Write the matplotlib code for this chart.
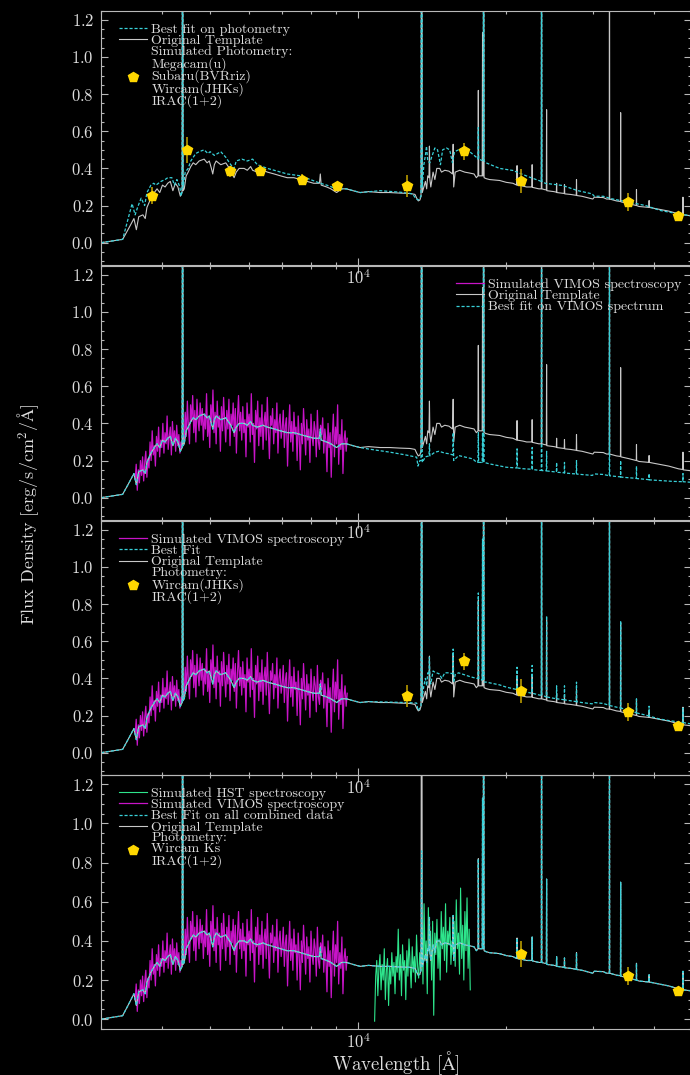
import numpy as np
import matplotlib
matplotlib.use("Agg")
import matplotlib.pyplot as plt
from matplotlib.ticker import MultipleLocator, NullFormatter

# values (wavelength in Angstrom, flux in erg/s/cm2/A)
# original template (lines are written as base / peak / base triplets)
tmpl_wave = [3000, 3320, 3420, 3500, 3540, 3580, 3650, 3690, 3720, 3790,
             3850, 3900, 3950, 4000, 4050, 4100, 4150, 4200, 4250, 4300,
             4350, 4385, 4396, 4407, 4430, 4470, 4512, 4567, 4620, 4674,
             4750, 4862, 4930, 4981, 5030, 5062, 5100, 5143, 5256, 5380,
             5508, 5594, 5650, 5727, 5862, 5950, 6045, 6100, 6237, 6400,
             6539, 6749, 6951, 7173, 7400, 7631, 7870, 8118, 8340, 8376,
             8410, 8630, 8800, 9041, 9250, 9465, 9760, 10093, 10500, 11079,
             11600, 12163, 12744, 13046, 13150, 13250, 13350, 13420, 13460, 13500,
             13600, 13700, 13780, 13850, 13930, 13960, 13990, 14050, 14200, 14320,
             14450, 14650, 14770, 15000, 15300, 15550, 15600, 15640, 15750, 16087,
             16466, 16855, 17200, 17390, 17520, 17550, 17580, 17870, 17900, 17930,
             17960, 17990, 18030, 18200, 18500, 19390, 20000, 20630, 21010, 21040,
             21070, 21610, 22000, 22550, 22580, 22610, 23300, 23570, 23600, 23630,
             24000, 24130, 24160, 24190, 25000, 25290, 25320, 25350, 26240, 26270,
             26300, 27000, 27760, 27790, 27820, 28500, 29500, 30000, 30200, 31500,
             32000, 32400, 32430, 32460, 33500, 34140, 34170, 34200, 35530, 36770,
             36800, 36830, 37230, 39010, 39040, 39070, 40870, 42810, 44860, 45720,
             45750, 45780, 47500]
tmpl_flux = [0.000, 0.018, 0.08, 0.13, 0.07, 0.14, 0.15, 0.13, 0.19, 0.24,
             0.27, 0.29, 0.27, 0.31, 0.30, 0.32, 0.33, 0.28, 0.32, 0.30,
             0.25, 0.27, 3.00, 0.28, 0.29, 0.36, 0.38, 0.41, 0.43, 0.42,
             0.44, 0.45, 0.43, 0.44, 0.40, 0.37, 0.42, 0.44, 0.42, 0.43,
             0.39, 0.35, 0.38, 0.40, 0.40, 0.39, 0.41, 0.39, 0.38, 0.39,
             0.38, 0.37, 0.36, 0.35, 0.35, 0.34, 0.33, 0.32, 0.32, 0.37,
             0.31, 0.30, 0.29, 0.27, 0.29, 0.29, 0.28, 0.27, 0.275, 0.27,
             0.27, 0.267, 0.265, 0.26, 0.24, 0.225, 0.23, 0.25, 3.00, 0.27,
             0.30, 0.33, 0.29, 0.36, 0.35, 0.52, 0.34, 0.30, 0.38, 0.34,
             0.40, 0.40, 0.38, 0.39, 0.385, 0.37, 0.53, 0.30, 0.38, 0.39,
             0.38, 0.375, 0.37, 0.35, 0.36, 0.82, 0.36, 0.36, 1.13, 0.36,
             0.36, 3.00, 0.35, 0.345, 0.34, 0.335, 0.325, 0.32, 0.31, 0.415,
             0.31, 0.305, 0.30, 0.30, 0.42, 0.298, 0.29, 0.29, 3.00, 0.29,
             0.285, 0.285, 0.716, 0.28, 0.275, 0.272, 0.32, 0.27, 0.265, 0.313,
             0.263, 0.26, 0.255, 0.34, 0.254, 0.25, 0.24, 0.235, 0.245, 0.243,
             0.235, 0.235, 3.00, 0.235, 0.225, 0.222, 0.70, 0.22, 0.21, 0.20,
             0.286, 0.20, 0.195, 0.19, 0.227, 0.19, 0.18, 0.17, 0.155, 0.152,
             0.245, 0.15, 0.145]

# best fit on photometry only (panel 1)
fitp_wave = [3000, 3320, 3470, 3520, 3560, 3620, 3680, 3720, 3790, 3840,
             3880, 3973, 4050, 4100, 4180, 4230, 4280, 4340, 4365, 4385,
             4396, 4407, 4450, 4512, 4567, 4674, 4750, 4862, 4950, 5000,
             5100, 5256, 5380, 5508, 5594, 5650, 5800, 5950, 6100, 6237,
             6539, 6749, 7173, 7631, 7994, 8376, 8630, 9041, 9465, 10093,
             11079, 12163, 12900, 13100, 13250, 13420, 13460, 13500, 13600, 13700,
             13770, 13850, 13989, 14100, 14320, 14500, 14700, 14850, 15120, 15350,
             15550, 15700, 16000, 16300, 16855, 17391, 17520, 17550, 17580, 17960,
             17990, 18030, 18200, 19390, 20630, 22300, 23570, 23600, 23630, 24000,
             26040, 27900, 29900, 30200, 31500, 32700, 35530, 38400, 41200, 44860,
             47500]
fitp_flux = [0.000, 0.018, 0.21, 0.15, 0.19, 0.24, 0.20, 0.27, 0.31, 0.32,
             0.31, 0.33, 0.34, 0.35, 0.35, 0.31, 0.34, 0.30, 0.25, 0.28,
             3.00, 0.30, 0.38, 0.40, 0.44, 0.48, 0.49, 0.50, 0.48, 0.49,
             0.47, 0.49, 0.46, 0.42, 0.40, 0.44, 0.45, 0.44, 0.45, 0.42,
             0.40, 0.39, 0.37, 0.36, 0.34, 0.32, 0.31, 0.29, 0.29, 0.27,
             0.28, 0.272, 0.263, 0.237, 0.23, 0.25, 3.00, 0.30, 0.42, 0.47,
             0.52, 0.44, 0.43, 0.46, 0.51, 0.50, 0.42, 0.50, 0.51, 0.50,
             0.43, 0.49, 0.50, 0.50, 0.49, 0.46, 0.45, 0.62, 0.45, 0.44,
             3.00, 0.44, 0.43, 0.40, 0.389, 0.353, 0.33, 3.00, 0.33, 0.32,
             0.308, 0.281, 0.263, 0.25, 0.25, 0.237, 0.218, 0.20, 0.173, 0.155,
             0.145]

# near-IR part of the fit on the VIMOS spectrum (panel 2); optical part follows the template
fitv_wave = [10500, 11610, 12500, 13150, 13230, 13350, 13420, 13460, 13500, 13700,
             13930, 13960, 13990, 14320, 14600, 15000, 15360, 15570, 15600, 15640,
             16000, 17100, 17400, 17520, 17550, 17580, 17870, 17900, 17930, 17960,
             17990, 18030, 18500, 20000, 21010, 21040, 21070, 21630, 22550, 22580,
             22610, 23370, 23570, 23600, 23630, 24130, 24160, 24190, 25290, 25320,
             25350, 26240, 26270, 26300, 27300, 27760, 27790, 27820, 29920, 30200,
             31500, 32400, 32430, 32460, 34140, 34170, 34200, 36770, 36800, 36830,
             37300, 39010, 39040, 39070, 43500, 45720, 45750, 45780, 47500]
fitv_flux = [0.262, 0.245, 0.23, 0.218, 0.17, 0.20, 0.20, 3.00, 0.19, 0.22,
             0.225, 0.29, 0.225, 0.245, 0.25, 0.24, 0.236, 0.23, 0.35, 0.20,
             0.227, 0.209, 0.191, 0.19, 0.35, 0.19, 0.19, 0.35, 0.19, 0.19,
             3.00, 0.19, 0.182, 0.164, 0.16, 0.263, 0.16, 0.156, 0.153, 0.27,
             0.152, 0.147, 0.147, 3.00, 0.146, 0.145, 0.25, 0.144, 0.138, 0.19,
             0.137, 0.134, 0.19, 0.133, 0.129, 0.128, 0.20, 0.127, 0.12, 0.128,
             0.125, 0.118, 3.00, 0.118, 0.112, 0.20, 0.111, 0.104, 0.17, 0.103,
             0.102, 0.097, 0.13, 0.096, 0.088, 0.086, 0.13, 0.086, 0.083]

# near-IR part of the fit on VIMOS + photometry (panel 3)
fitvp_wave = [10500, 11600, 12500, 13150, 13230, 13350, 13420, 13460, 13500, 13600,
              13700, 13780, 13850, 13930, 13960, 13990, 14050, 14200, 14320, 14600,
              14800, 15000, 15300, 15550, 15600, 15640, 15750, 16000, 16855, 17391,
              17520, 17550, 17580, 17870, 17900, 17930, 17960, 17990, 18030, 18200,
              19390, 20000, 21010, 21040, 21070, 21630, 22550, 22580, 22610, 23370,
              23570, 23600, 23630, 24130, 24160, 24190, 25290, 25320, 25350, 26240,
              26270, 26300, 27760, 27790, 27820, 28500, 29900, 30200, 31500, 32400,
              32430, 32460, 34140, 34170, 34200, 35530, 36770, 36800, 36830, 39010,
              39040, 39070, 40870, 43000, 45720, 45750, 45780, 47500]
fitvp_flux = [0.275, 0.272, 0.27, 0.267, 0.227, 0.24, 0.25, 3.00, 0.30, 0.36,
              0.40, 0.36, 0.43, 0.42, 0.513, 0.40, 0.37, 0.44, 0.433, 0.425,
              0.40, 0.43, 0.43, 0.425, 0.558, 0.38, 0.42, 0.43, 0.41, 0.40,
              0.40, 0.86, 0.40, 0.39, 1.15, 0.39, 0.39, 3.00, 0.38, 0.38,
              0.365, 0.353, 0.34, 0.46, 0.34, 0.33, 0.32, 0.47, 0.32, 0.31,
              0.31, 3.00, 0.31, 0.30, 0.737, 0.30, 0.29, 0.36, 0.29, 0.285,
              0.36, 0.284, 0.275, 0.38, 0.274, 0.27, 0.263, 0.27, 0.265, 0.255,
              3.00, 0.254, 0.24, 0.71, 0.24, 0.23, 0.215, 0.29, 0.214, 0.198,
              0.25, 0.197, 0.182, 0.172, 0.163, 0.24, 0.162, 0.155]

# fit on all combined data (panel 4): same as template, [OII] line lower
fit_all_oii_wave = 13460
fit_all_oii_peak = 0.86

# simulated VIMOS spectrum (3520 - 9500 A)
vimos_range = (3520, 9500)
vimos_flux = [0.10, 0.18, 0.04, 0.15, 0.08, 0.20,
              0.12, 0.22, 0.09, 0.19, 0.25, 0.11, 0.21, 0.16,
              0.30, 0.20, 0.36, 0.23, 0.28, 0.17, 0.33, 0.25, 0.38, 0.22, 0.31,
              0.27, 0.40, 0.24, 0.35, 0.29, 0.44, 0.26, 0.33, 0.38, 0.23, 0.41, 0.30,
              0.36, 0.25, 0.39, 0.28, 0.34,
              0.24, 0.30, 0.27, 0.33, 0.30,
              0.46, 0.33, 0.52, 0.38, 0.29, 0.50, 0.41, 0.55, 0.35, 0.47, 0.30, 0.53,
              0.42, 0.36, 0.51, 0.39,
              0.48, 0.31, 0.45, 0.37, 0.56, 0.33, 0.43, 0.27, 0.50, 0.40, 0.58, 0.35,
              0.46, 0.29, 0.52, 0.38, 0.44, 0.25, 0.49, 0.36, 0.54, 0.41, 0.30, 0.47,
              0.37, 0.53, 0.28, 0.45, 0.39, 0.51, 0.33, 0.48, 0.24, 0.43, 0.55, 0.36,
              0.46, 0.31,
              0.49, 0.35, 0.42, 0.22, 0.51, 0.38, 0.45, 0.30, 0.56, 0.34, 0.40, 0.19,
              0.47, 0.37, 0.52, 0.28, 0.43, 0.33, 0.50, 0.26, 0.41, 0.46, 0.31, 0.54,
              0.36, 0.21, 0.44, 0.39, 0.48, 0.29, 0.42, 0.35, 0.51, 0.24, 0.40, 0.45,
              0.32, 0.37,
              0.47, 0.27, 0.39, 0.43, 0.17, 0.36, 0.50, 0.30, 0.41, 0.25, 0.46, 0.34,
              0.38, 0.20, 0.44, 0.32, 0.15, 0.40, 0.29, 0.48, 0.35, 0.23, 0.42, 0.31,
              0.37, 0.19, 0.45, 0.33, 0.28, 0.41, 0.36, 0.22, 0.47, 0.30, 0.26, 0.39,
              0.34, 0.43,
              0.24, 0.37, 0.31, 0.14, 0.40, 0.27, 0.35, 0.11, 0.33, 0.45, 0.22, 0.38,
              0.29, 0.50, 0.18, 0.34, 0.26, 0.42, 0.13, 0.31, 0.36, 0.25, 0.32]

# simulated HST spectrum (10800 - 16900 A)
hst_range = (10800, 16900)
hst_flux = [-0.01, 0.22, 0.30, 0.12, 0.26, 0.33, 0.15, 0.28, 0.20, 0.36, 0.10,
            0.25, 0.31, 0.07, 0.27, 0.18, 0.34, 0.22, 0.29, 0.13, 0.32, 0.24,
            0.46, 0.20, 0.33, 0.12, 0.38, 0.25, 0.30, 0.10, 0.35, 0.22, 0.41,
            0.28, 0.16, 0.37, 0.24, 0.32, 0.19, 0.43, 0.27, 0.21, 0.34,
            0.25, 0.48, 0.18, 0.59, 0.30, 0.40, 0.13, 0.57, 0.35, 0.45,
            0.20, 0.50, 0.02, 0.44, 0.33, 0.51, 0.26, 0.41, 0.20, 0.55, 0.36,
            0.47, 0.30, 0.59, 0.24, 0.45, 0.38, 0.52, 0.28, 0.40,
            0.33, 0.50, 0.27, 0.61, 0.36, 0.44, 0.23, 0.67, 0.31, 0.48, 0.20,
            0.55, 0.35, 0.62, 0.26, 0.46, 0.15]

# simulated photometry: u, BVRiz, J H Ks, IRAC 1+2
phot_wave = [3811, 4486, 5500, 6312, 7702, 9067, 12549, 16440, 21480, 35400, 44720]
phot_flux = [0.254, 0.500, 0.385, 0.388, 0.340, 0.304, 0.304, 0.492, 0.333, 0.220, 0.143]
phot_err = [0.045, 0.07, 0.03, 0.03, 0.03, 0.025, 0.06, 0.047, 0.065, 0.047, 0.022]

plt.rcParams.update({
    "font.family": ["cmr10", "DejaVu Serif"],
    "mathtext.fontset": "cm",
    "axes.unicode_minus": False,
    "axes.formatter.use_mathtext": True,
    "text.color": "#dddddd",
    "axes.labelcolor": "#dddddd",
    "axes.edgecolor": "#b8b8b8",
    "figure.facecolor": "black",
    "savefig.facecolor": "black",
})

c_tmpl = "#c8c8c8"
c_fit = "#38d0d8"
c_vimos = "#c814c8"
c_hst = "#2ee58c"
c_phot = "#ffd700"
c_err = "#b89a00"
fit_ls = (0, (2.5, 1.5))

fig = plt.figure(figsize=(6.9, 10.75), dpi=100)
bottoms = [0.7535, 0.5163, 0.2791, 0.0428]
axes = []
for i, b in enumerate(bottoms):
    ax = fig.add_axes([101 / 690, b, 590 / 690, 0.2367])
    ax.set_zorder(10 - i)
    ax.set_facecolor("none")
    axes.append(ax)
ax1, ax2, ax3, ax4 = axes


def style(ax, ymin):
    ax.set_xscale("log")
    ax.set_xlim(3000, 47500)
    ax.set_ylim(ymin, 1.25)
    ax.yaxis.set_major_locator(MultipleLocator(0.2))
    ax.yaxis.set_minor_locator(MultipleLocator(0.05))
    ax.xaxis.set_minor_formatter(NullFormatter())
    ax.tick_params(which="both", direction="in", top=True, right=True,
                   color="#b8b8b8", labelcolor="#dddddd", width=0.8)
    ax.tick_params(which="major", length=5, labelsize=12)
    ax.tick_params(axis="y", which="major", pad=5)
    ax.tick_params(axis="x", which="major", pad=2)
    ax.tick_params(which="minor", length=2.5)


def photometry(ax, idx, label):
    w = [phot_wave[i] for i in idx]
    f = [phot_flux[i] for i in idx]
    e = [phot_err[i] for i in idx]
    ax.errorbar(w, f, yerr=e, fmt="none", ecolor=c_err, elinewidth=1.2, zorder=5)
    return ax.plot(w, f, "p", color=c_phot, ms=7, mec=c_phot, label=label, zorder=6)[0]


def legend(ax, handles, loc, anchor):
    leg = ax.legend(handles=handles, loc=loc, bbox_to_anchor=anchor, frameon=False,
                    fontsize=10, labelspacing=-0.1, handlelength=2.0,
                    handletextpad=0.3, borderaxespad=0.5)
    for t in leg.get_texts():
        t.set_linespacing(0.87)
        t.set_color("#dddddd")
    return leg


opt_idx = [i for i, w in enumerate(tmpl_wave) if w <= 10093]
opt_wave = [tmpl_wave[i] for i in opt_idx]
opt_flux = [tmpl_flux[i] for i in opt_idx]
vimos_wave = np.geomspace(vimos_range[0], vimos_range[1], len(vimos_flux))
hst_wave = np.geomspace(hst_range[0], hst_range[1], len(hst_flux))

# panel 1: photometry only
style(ax1, -0.12)
h_t, = ax1.plot(tmpl_wave, tmpl_flux, color=c_tmpl, lw=0.8, label="Original Template")
h_f, = ax1.plot(fitp_wave, fitp_flux, color=c_fit, lw=0.9, ls=fit_ls, label="Best fit on photometry")
h_p = photometry(ax1, range(11), "Simulated Photometry:\nMegacam(u)\nSubaru(BVRriz)\nWircam(JHKs)\nIRAC(1+2)")
legend(ax1, [h_f, h_t, h_p], "upper left", (0.01, 1.0))

# panel 2: VIMOS spectrum only
style(ax2, -0.12)
h_v, = ax2.plot(vimos_wave, vimos_flux, color=c_vimos, lw=0.9, label="Simulated VIMOS spectroscopy")
h_t, = ax2.plot(tmpl_wave, tmpl_flux, color=c_tmpl, lw=0.8, label="Original Template")
h_f, = ax2.plot(opt_wave + fitv_wave, opt_flux + fitv_flux, color=c_fit, lw=0.9, ls=fit_ls,
                label="Best fit on VIMOS spectrum")
legend(ax2, [h_v, h_t, h_f], "upper right", (1.005, 1.0))

# panel 3: VIMOS + near-IR photometry
style(ax3, -0.12)
h_v, = ax3.plot(vimos_wave, vimos_flux, color=c_vimos, lw=0.9, label="Simulated VIMOS spectroscopy")
h_t, = ax3.plot(tmpl_wave, tmpl_flux, color=c_tmpl, lw=0.8, label="Original Template")
h_f, = ax3.plot(opt_wave + fitvp_wave, opt_flux + fitvp_flux, color=c_fit, lw=0.9, ls=fit_ls,
                label="Best Fit")
h_p = photometry(ax3, range(6, 11), "Photometry:\nWircam(JHKs)\nIRAC(1+2)")
legend(ax3, [h_v, h_f, h_t, h_p], "upper left", (0.01, 1.0))

# panel 4: everything combined
style(ax4, -0.05)
fit_all_flux = [fit_all_oii_peak if w == fit_all_oii_wave else f for w, f in zip(tmpl_wave, tmpl_flux)]
h_h, = ax4.plot(hst_wave, hst_flux, color=c_hst, lw=0.8, label="Simulated HST spectroscopy")
h_v, = ax4.plot(vimos_wave, vimos_flux, color=c_vimos, lw=0.9, label="Simulated VIMOS spectroscopy")
h_t, = ax4.plot(tmpl_wave, tmpl_flux, color=c_tmpl, lw=0.8, label="Original Template")
h_f, = ax4.plot(tmpl_wave, fit_all_flux, color=c_fit, lw=0.9, ls=fit_ls,
                label="Best Fit on all combined data")
h_p = photometry(ax4, range(8, 11), "Photometry:\nWircam Ks\nIRAC(1+2)")
legend(ax4, [h_h, h_v, h_f, h_t, h_p], "upper left", (0.01, 1.0))

fig.text(396 / 690, 1 - 1063 / 1075, r"Wavelength [$\mathrm{\AA}$]",
         ha="center", va="center", fontsize=13.5)
fig.text(28 / 690, 1 - 514 / 1075, r"Flux Density [erg/s/cm$^2$/$\mathrm{\AA}$]",
         rotation=90, ha="center", va="center", fontsize=13)

fig.savefig("out.png", dpi=100)
